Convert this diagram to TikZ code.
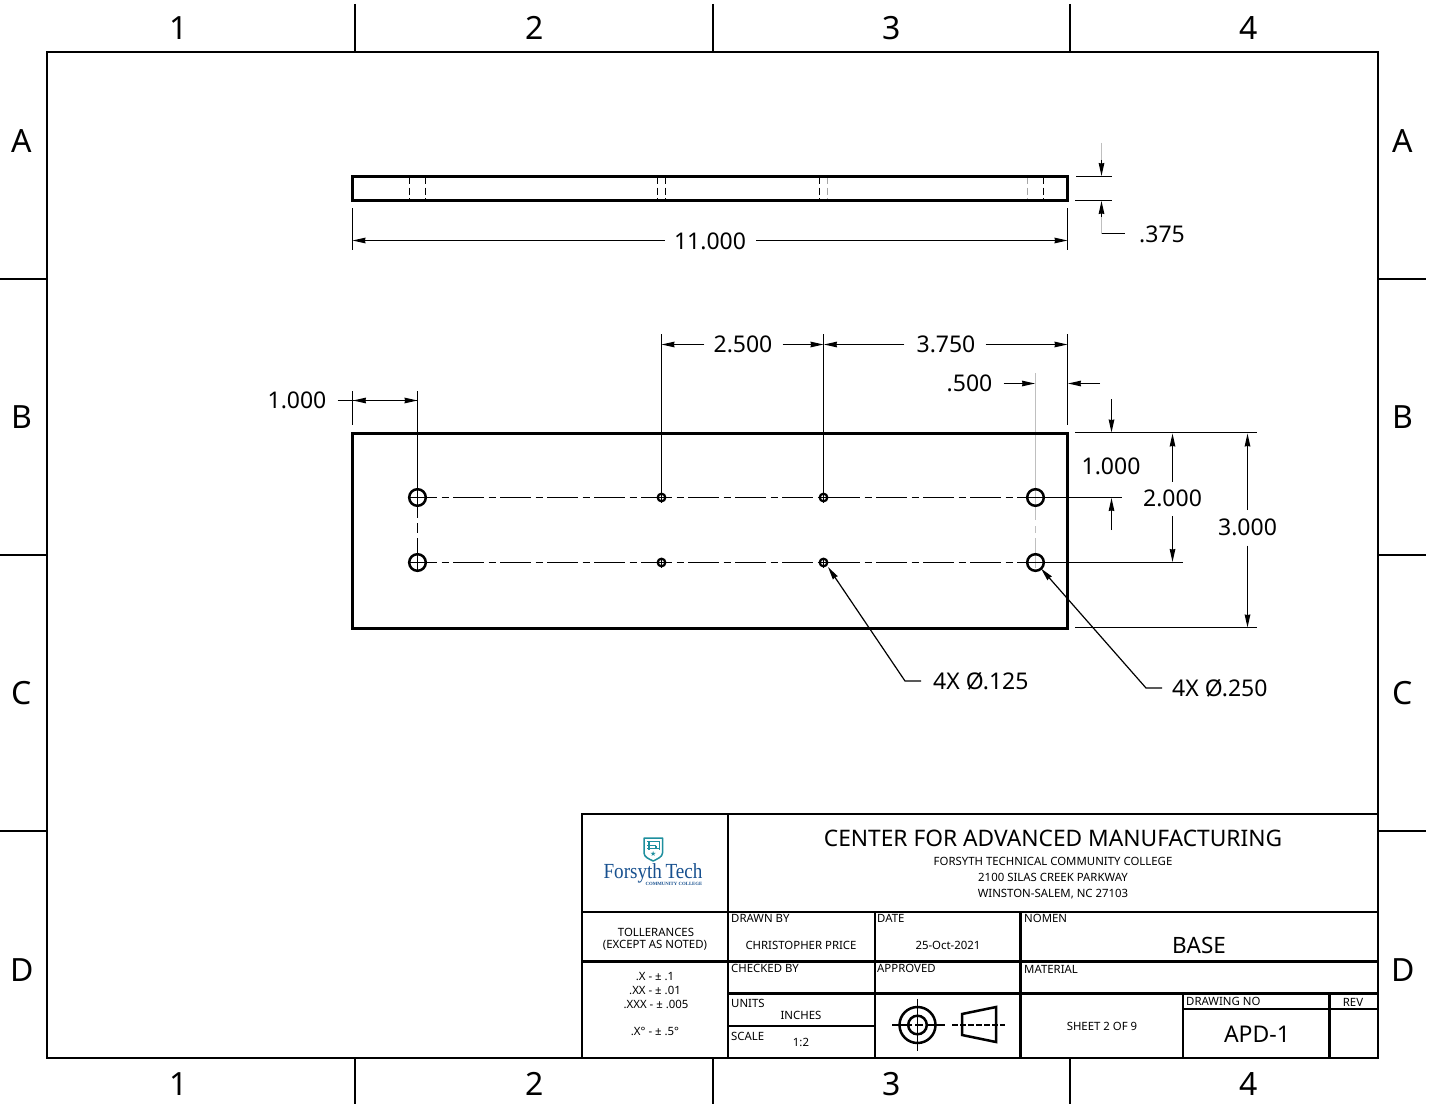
\documentclass[tikz,border=0pt]{standalone}
\usepackage{fontspec}
\setmainfont{Noto Sans}
\newfontfamily\logofont{Liberation Serif}
\newfontfamily\starfont{DejaVu Sans}
\usetikzlibrary{arrows.meta}
\definecolor{logoblue}{HTML}{17508F}
\definecolor{logoteal}{HTML}{1E8F9E}
\tikzset{
  x=1pt,y=-1pt,
  frameline/.style={line width=2.6pt,black},
  partline/.style={line width=3pt,black},
  holeline/.style={line width=2.5pt,black},
  dimline/.style={line width=1.2pt,black},
  grayext/.style={line width=1.6pt,black!25},
  hiddenline/.style={line width=.9pt,black,dash pattern=on 7pt off 3.5pt},
  hiddengray/.style={hiddenline,black!35},
  centerline/.style={line width=1.2pt,black,dash pattern=on 31pt off 4.5pt on 7pt off 4.5pt,dash phase=20pt},
  tip/.style={-{Stealth[length=13pt,width=5.6pt,inset=.6pt]}},
  zonetext/.style={font=\fontsize{32}{32}\selectfont,inner sep=0pt,xshift=1pt,yshift=-.7pt},
  dimtext/.style={font=\fontsize{23}{23}\selectfont,inner sep=0pt,yshift=-.8pt},
  tinytext/.style={font=\fontsize{11.4}{13}\selectfont,inner sep=0pt,align=center},
  cornertext/.style={font=\fontsize{11.4}{13}\selectfont,inner sep=0pt,anchor=west},
}
\begin{document}
\begin{tikzpicture}
\useasboundingbox (0,0) rectangle (1430,1105);
\fill[white] (0,0) rectangle (1430,1105);
% sheet border and zones
\draw[frameline] (47,52) rectangle (1378,1058);
\foreach \x in {355,713,1070}{
  \draw[frameline] (\x,4) -- (\x,52);
  \draw[frameline] (\x,1058) -- (\x,1104);
}
\foreach \y in {279,555,831}{
  \draw[frameline] (0,\y) -- (47,\y);
  \draw[frameline] (1378,\y) -- (1426,\y);
}
\foreach \t/\x in {1/178,2/534,3/891,4/1248}{
  \node[zonetext] (zt\t) at (\x,27) {\t};
  \node[zonetext] (zb\t) at (\x,1083) {\t};
}
\foreach \t/\y in {A/141,B/417,C/693,D/970}{
  \node[zonetext,xshift=-1pt,yshift=.7pt] (zl\t) at (22,\y) {\t};
  \node[zonetext,xshift=-1pt,yshift=.7pt] (zr\t) at (1403,\y) {\t};
}
% edge view
\foreach \x in {409,425,657,665,819,1043}{
  \draw[hiddenline] (\x.5,177) -- (\x.5,200);
}
\foreach \x in {827,1027}{
  \draw[hiddengray] (\x.5,177) -- (\x.5,200);
}
\draw[partline] (352.5,176.5) rectangle (1067.5,200.5);
\draw[dimline] (352.5,208) -- (352.5,250);
\draw[dimline] (1067.5,208) -- (1067.5,250);
\node[dimtext] (d11) at (710,241) {11.000};
\coordinate (a11l) at (352.5,240.5);
\coordinate (a11r) at (1067.5,240.5);
\draw[dimline,tip] ([xshift=-9pt]d11.west |- a11l) -- (a11l);
\draw[dimline,tip] ([xshift=10pt]d11.east |- a11r) -- (a11r);
% thickness dimension
\draw[dimline] (1076,176.5) -- (1112,176.5);
\draw[dimline] (1075,200.5) -- (1112,200.5);
\draw[grayext] (1101.5,143) -- (1101.5,165);
\draw[dimline,tip] (1101.5,160) -- (1101.5,176);
\node[dimtext,anchor=west] (d375) at (1139,234) {.375};
\draw[grayext] (1101.5,233.5) -- (1101.5,212);
\draw[dimline] (1101.5,233.5) -- (1125,233.5);
\draw[dimline,tip] (1101.5,217) -- (1101.5,201);
% plan view extension lines
\draw[grayext] (1035.5,373) -- (1035.5,520);
\draw[grayext] (1035.5,526) -- (1035.5,533);
\draw[grayext] (1035.5,538) -- (1035.5,568);
\draw[dimline] (352.5,391) -- (352.5,425);
\draw[dimline] (417.5,391) -- (417.5,518);
\draw[dimline] (417.5,523) -- (417.5,533);
\draw[dimline] (417.5,538) -- (417.5,562);
\draw[dimline] (661.5,334) -- (661.5,497);
\draw[dimline] (823.5,334) -- (823.5,497);
\draw[dimline] (1067.5,334) -- (1067.5,425);
% plan view part
\draw[partline] (352.5,433) rectangle (1067.5,628);
% centre lines
\draw[centerline] (426,497.5) -- (1035,497.5);
\draw[centerline] (426,562.5) -- (1035,562.5);
% holes
\foreach \y in {497.5,562.5}{
  \foreach \x in {417.5,1035.5}{
    \draw[holeline] (\x,\y) circle (8.3);
    \draw[dimline] (\x-8,\y) -- (\x+8,\y);
  }
  \draw[dimline] (417.5,\y-8) -- (417.5,\y+8);
  \foreach \x in {661.5,823.5}{
    \draw[line width=2.2pt] (\x,\y) circle (3.8);
    \draw[line width=.9pt] (\x-5,\y) -- (\x+5,\y) (\x,\y-5) -- (\x,\y+5);
  }
}
% horizontal dimensions
\node[dimtext] (d25) at (743,344) {2.500};
\coordinate (a25l) at (661.5,344.5);
\coordinate (a25r) at (823.5,344.5);
\draw[dimline,tip] ([xshift=-9pt]d25.west |- a25l) -- (a25l);
\draw[dimline,tip] ([xshift=10pt]d25.east |- a25r) -- (a25r);
\node[dimtext] (d375b) at (946,344) {3.750};
\coordinate (a37l) at (824,344.5);
\coordinate (a37r) at (1067.5,344.5);
\draw[dimline,tip] ([xshift=-12pt]d375b.west |- a37l) -- (a37l);
\draw[dimline,tip] ([xshift=10pt]d375b.east |- a37r) -- (a37r);
\node[dimtext] (d05) at (969.5,383) {.500};
\coordinate (a05l) at (1035,383.5);
\draw[dimline,tip] ([xshift=11pt]d05.east |- a05l) -- (a05l);
\coordinate (e05) at (1100,383.5);
\draw[dimline,tip] (e05) -- (1068,383.5);
\node[dimtext] (d1a) at (297,400) {1.000};
\coordinate (a1r) at (417.5,400.5);
\draw[dimline] ([xshift=11pt]d1a.east |- a1r) -- (a1r);
\draw[dimline,tip] (375,400.5) -- (353,400.5);
\draw[dimline,tip] (395,400.5) -- (417.5,400.5);
% vertical dimensions
\draw[dimline] (1075,432.5) -- (1257,432.5);
\draw[dimline] (1075,627.5) -- (1257,627.5);
\draw[dimline] (1044,497.5) -- (1122,497.5);
\draw[dimline] (1044,562.5) -- (1183,562.5);
\node[dimtext] (d1b) at (1111,466) {1.000};
\draw[dimline,tip] (1111.5,399) -- (1111.5,432.5);
\draw[dimline,tip] (1111.5,530) -- (1111.5,498);
\node[dimtext] (d2) at (1172.5,497.5) {2.000};
\draw[dimline,tip] (d2.north) ++(0,-8) -- (1172.5,433.5);
\draw[dimline,tip] (d2.south) ++(0,9) -- (1172.5,562);
\node[dimtext] (d3) at (1247.5,527) {3.000};
\draw[dimline,tip] (d3.north) ++(0,-9) -- (1247.5,433.5);
\draw[dimline,tip] (d3.south) ++(0,9) -- (1247.5,627.5);
% leaders
\node[dimtext,anchor=west] (hs) at (933,680) {4X Ø.125};
\coordinate (hst) at (828,567);
\coordinate (hsk) at (905,681);
\draw[dimline,tip] ([xshift=-12pt]hs.west |- hsk) -- (hsk) -- (hst);
\node[dimtext,anchor=west] (hb) at (1172,687) {4X Ø.250};
\coordinate (hbt) at (1041,568.5);
\coordinate (hbk) at (1146,688);
\draw[dimline,tip] ([xshift=-10pt]hb.west |- hbk) -- (hbk) -- (hbt);
% title block
\fill[white] (582,814) rectangle (1378,1058);
\draw[frameline] (582,814) rectangle (1378,1058);
\draw[frameline] (582,912) -- (1378,912);
\draw[frameline] (582,961.5) -- (1378,961.5);
\draw[frameline] (728,993.5) -- (1378,993.5);
\draw[frameline] (728,1026) -- (875,1026);
\draw[frameline] (728,814) -- (728,1058);
\draw[frameline] (875,912) -- (875,1058);
\draw[frameline] (1020.5,912) -- (1020.5,1058);
\draw[frameline] (1183,993.5) -- (1183,1058);
\draw[frameline] (1329.5,993.5) -- (1329.5,1058);
\draw[frameline] (1183,1009) -- (1378,1009);
% logo
\draw[logoteal,line width=1.5pt,line join=round,fill=white] (644,838) -- (662.5,838) -- (662.5,853) .. controls (662.5,857) and (657,859) .. (653.2,861) .. controls (649,859) and (644,857) .. (644,853) -- cycle;
\draw[logoteal,line width=1.3pt] (647,841.5) -- (660,841.5) (647,845.5) -- (656,845.5) (649,841.5) -- (649,850) (656,845.5) -- (656,848) (659.5,841.5) -- (659.5,850) (647,848.5) -- (659.5,848.5);
\node[logoteal,inner sep=0pt,font=\starfont\fontsize{7}{7}\selectfont] (star) at (653.2,853.5) {★};
\node[logoblue,inner sep=0pt,xscale=.89,font=\logofont\fontsize{21.5}{22}\selectfont] (logon) at (653,873.5) {Forsyth\hspace{-1.5pt} Tech};
\node[logoblue,inner sep=0pt,font=\logofont\bfseries\fontsize{4.8}{5}\selectfont] (logoc) at (674,884.3) {COMMUNITY COLLEGE};
% title block text
\node[inner sep=0pt,font=\fontsize{22.75}{24}\selectfont] (title) at (1053,838.5) {CENTER FOR ADVANCED MANUFACTURING};
\node[tinytext] (sub1) at (1053,861) {FORSYTH TECHNICAL COMMUNITY COLLEGE};
\node[tinytext] (sub2) at (1053,877) {2100 SILAS CREEK PARKWAY};
\node[tinytext] (sub3) at (1053,894) {WINSTON-SALEM, NC 27103};
\node[tinytext] (tol1) at (656,932) {TOLLERANCES};
\node[tinytext] (tol2) at (655,945.5) {(EXCEPT AS NOTED)};
\node[tinytext] (t1) at (655,977) {.X - ± .1};
\node[tinytext] (t2) at (655,990.5) {.XX - ± .01};
\node[tinytext] (t3) at (656,1004) {.XXX - ± .005};
\node[tinytext] (t4) at (655,1031) {.X° - ± .5°};
\node[cornertext] (l1) at (731,918) {DRAWN BY};
\node[tinytext] (v1) at (801,945) {CHRISTOPHER PRICE};
\node[cornertext] (l2) at (731,968.5) {CHECKED BY};
\node[cornertext] (l3) at (731,1003) {UNITS};
\node[tinytext] (v3) at (801,1015.5) {INCHES};
\node[cornertext] (l4) at (731,1036) {SCALE};
\node[tinytext] (v4) at (801,1042) {1:2};
\node[cornertext] (l5) at (877,918) {DATE};
\node[tinytext] (v5) at (948,945) {25-Oct-2021};
\node[cornertext] (l6) at (877,968.5) {APPROVED};
\node[cornertext] (l7) at (1024,918) {NOMEN};
\node[inner sep=0pt,font=\fontsize{22.5}{24}\selectfont] (nomen) at (1199,945.5) {BASE};
\node[cornertext] (l8) at (1024,969) {MATERIAL};
\node[tinytext] (sheet) at (1102,1026) {SHEET 2 OF 9};
\node[cornertext] (l9) at (1186,1001.5) {DRAWING NO};
\node[tinytext] (l10) at (1353,1002) {REV};
\node[inner sep=0pt,font=\fontsize{23}{24}\selectfont] (dwg) at (1257,1034.5) {APD-1};
% projection symbol
\draw[holeline] (917.5,1025) circle (18);
\draw[holeline] (917.5,1025) circle (9.3);
\draw[dimline] (917.5,999) -- (917.5,1051);
\draw[dimline,dash pattern=on 20pt off 3pt on 8pt off 3pt] (892,1025) -- (945,1025);
\draw[holeline,line join=miter] (962,1014) -- (996,1007) -- (996,1042) -- (962,1035) -- cycle;
\draw[dimline,dash pattern=on 6pt off 2pt] (952,1025) -- (1005,1025);
\end{tikzpicture}
\end{document}
